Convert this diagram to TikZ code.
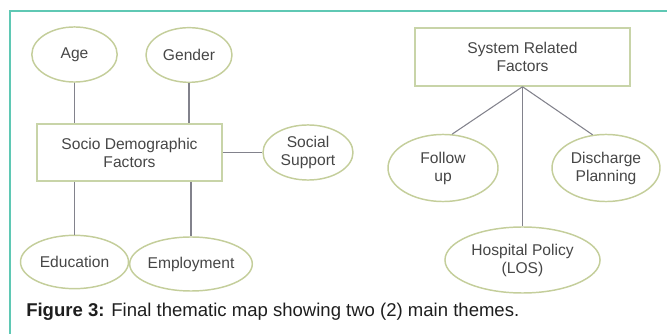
\documentclass[tikz,border=0pt]{standalone}
\usepackage{fontspec}
\setmainfont{Liberation Sans}
\usetikzlibrary{shapes.geometric}
\definecolor{framecol}{RGB}{95,200,180}
\definecolor{ovalcol}{RGB}{196,206,155}
\definecolor{boxcol}{RGB}{200,212,168}
\definecolor{linkcol}{RGB}{130,130,140}
\definecolor{textcol}{RGB}{70,70,70}
\begin{document}
\begin{tikzpicture}[x=0.75pt,y=-0.75pt,
	oval/.style={draw=ovalcol, line width=1.1pt, shape=ellipse, inner sep=0pt, text=textcol, align=center, font=\fontsize{11.7}{13.5}\selectfont},
	themebox/.style={draw=boxcol, line width=1.1pt, inner sep=0pt, text=textcol, align=center, font=\fontsize{11.7}{13.5}\selectfont},
	link/.style={draw=linkcol, line width=0.8pt}]
	\useasboundingbox (0,0) rectangle (667,334);
	\draw[framecol, line width=1.1pt] (10,334) -- (10,11) -- (667,11);
	
	% socio demographic theme
	\node[themebox, minimum width=138.8pt, minimum height=43pt] (SD) at (129.5,152.5) {Socio Demographic\\Factors};
	\node[oval, minimum width=64pt, minimum height=41.3pt] (AG) at (74.5,54.5) {Age};
	\node[oval, minimum width=64.5pt, minimum height=41pt] (GE) at (189,55) {Gender};
	\node[oval, minimum width=67.5pt, minimum height=41.3pt] (SS) at (308,152.5) {Social\\Support};
	\node[oval, minimum width=81pt, minimum height=40pt] (ED) at (74.5,262) {Education};
	\node[oval, minimum width=82.5pt, minimum height=40.5pt] (EM) at (191,264) {Employment};
	
	\draw[link] (AG) -- (AG |- SD.north);
	\draw[link] (GE) -- (GE |- SD.north);
	\draw[link] (SD.east) -- (SS.west);
	\draw[link] (SD.south -| ED) -- (ED);
	\draw[link] (SD.south -| EM) -- (EM);
	
	% system related theme
	\node[themebox, minimum width=161.3pt, minimum height=43.5pt] (SR) at (522.5,57) {System Related\\Factors};
	\node[oval, minimum width=82.5pt, minimum height=50.3pt] (FU) at (443,168) {Follow\\up};
	\node[oval, minimum width=81pt, minimum height=50.3pt] (DP) at (606,168) {Discharge\\Planning};
	\node[oval, minimum width=116.3pt, minimum height=49.5pt] (HP) at (522.5,260) {Hospital Policy\\(LOS)};
	
	\draw[link] (SR.south) -- (FU.75);
	\draw[link] (SR.south) -- (DP.112);
	\draw[link] (SR.south) -- (HP);
	
	\node[anchor=base west, inner sep=0pt, text={rgb,255:red,30;green,30;blue,30}, font=\fontsize{13.9}{16}\selectfont] (CAP) at (26,317) {\textbf{Figure 3:} Final thematic map showing two (2) main themes.};
\end{tikzpicture}
\end{document}
